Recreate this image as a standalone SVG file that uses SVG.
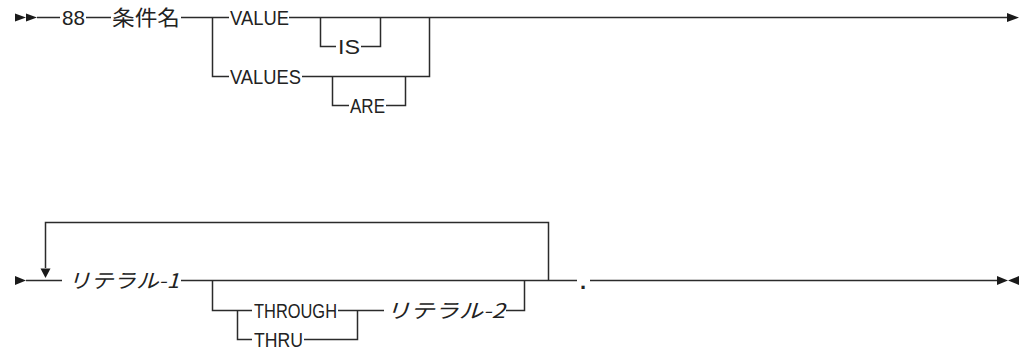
<svg xmlns="http://www.w3.org/2000/svg" width="1024" height="349" viewBox="0 0 1024 349">
<style>
.ln{fill:none;stroke:#2b2b2b;stroke-width:1.5}
.ah{fill:#1a1a1a;stroke:none}
.kw{font-family:"Liberation Sans","DejaVu Sans",sans-serif;font-size:20.5px;fill:#222}
.jp{font-family:"Noto Sans CJK JP",sans-serif;font-size:21px;fill:#222}
.var{font-family:"Noto Sans CJK JP",sans-serif;font-size:20px;font-style:italic;fill:#222}
</style>
<rect width="1024" height="349" fill="#fff"/>
<g id="connectors">
<path class="ln" d="M37 17.5H60 M86 17.5H111 M181 17.5H229 M212.5 17.5V76.5H229 M289 17.5H1008"/>
<path class="ln" d="M320.5 17.5V46.5H336 M361 46.5H380.5V17.5"/>
<path class="ln" d="M302 76.5H429.5V17.5"/>
<path class="ln" d="M332.5 76.5V105.5H349 M386 105.5H405.5V76.5"/>
<path class="ln" d="M26 280.5H62 M181 280.5H577 M590 280.5H997"/>
<path class="ln" d="M45.5 268V222.5H548.5V280.5"/>
<path class="ln" d="M212.5 280.5V310.5H252 M338 310.5H384 M506 310.5H524.5V280.5"/>
<path class="ln" d="M237.5 310.5V339.5H252 M304 339.5H357.5V310.5"/>
<polygon class="ah" points="15,13.5 26,17.5 15,21.5"/>
<polygon class="ah" points="26,13.5 37,17.5 26,21.5"/>
<polygon class="ah" points="1007,13 1019,17.5 1007,22"/>
<polygon class="ah" points="15,276 26,280.5 15,285"/>
<polygon class="ah" points="40.5,268.5 50.5,268.5 45.5,278"/>
<polygon class="ah" points="997,276 1008,280.5 997,285"/>
<polygon class="ah" points="1019,276 1008,280.5 1019,285"/>
</g>
<g id="n88"><text class="kw" x="62" y="25" textLength="23" lengthAdjust="spacingAndGlyphs">88</text></g>
<g id="n-jokenmei"><text class="jp" x="112" y="25" textLength="68" lengthAdjust="spacingAndGlyphs">条件名</text></g>
<g id="n-value"><text class="kw" x="230" y="25" textLength="59" lengthAdjust="spacingAndGlyphs">VALUE</text></g>
<g id="n-is"><text class="kw" x="338" y="54" textLength="22" lengthAdjust="spacingAndGlyphs">IS</text></g>
<g id="n-values"><text class="kw" x="230" y="84" textLength="71" lengthAdjust="spacingAndGlyphs">VALUES</text></g>
<g id="n-are"><text class="kw" x="350" y="113" textLength="35" lengthAdjust="spacingAndGlyphs">ARE</text></g>
<g id="n-lit1"><text class="var" x="68" y="288" textLength="111" lengthAdjust="spacingAndGlyphs">リテラル-1</text></g>
<g id="n-through"><text class="kw" x="254" y="318" textLength="83" lengthAdjust="spacingAndGlyphs">THROUGH</text></g>
<g id="n-thru"><text class="kw" x="254" y="347" textLength="49" lengthAdjust="spacingAndGlyphs">THRU</text></g>
<g id="n-lit2"><text class="var" x="386" y="318" textLength="119" lengthAdjust="spacingAndGlyphs">リテラル-2</text></g>
<g id="n-period"><text class="kw" x="580" y="289" style="font-weight:bold;font-size:22px">.</text></g>
</svg>
